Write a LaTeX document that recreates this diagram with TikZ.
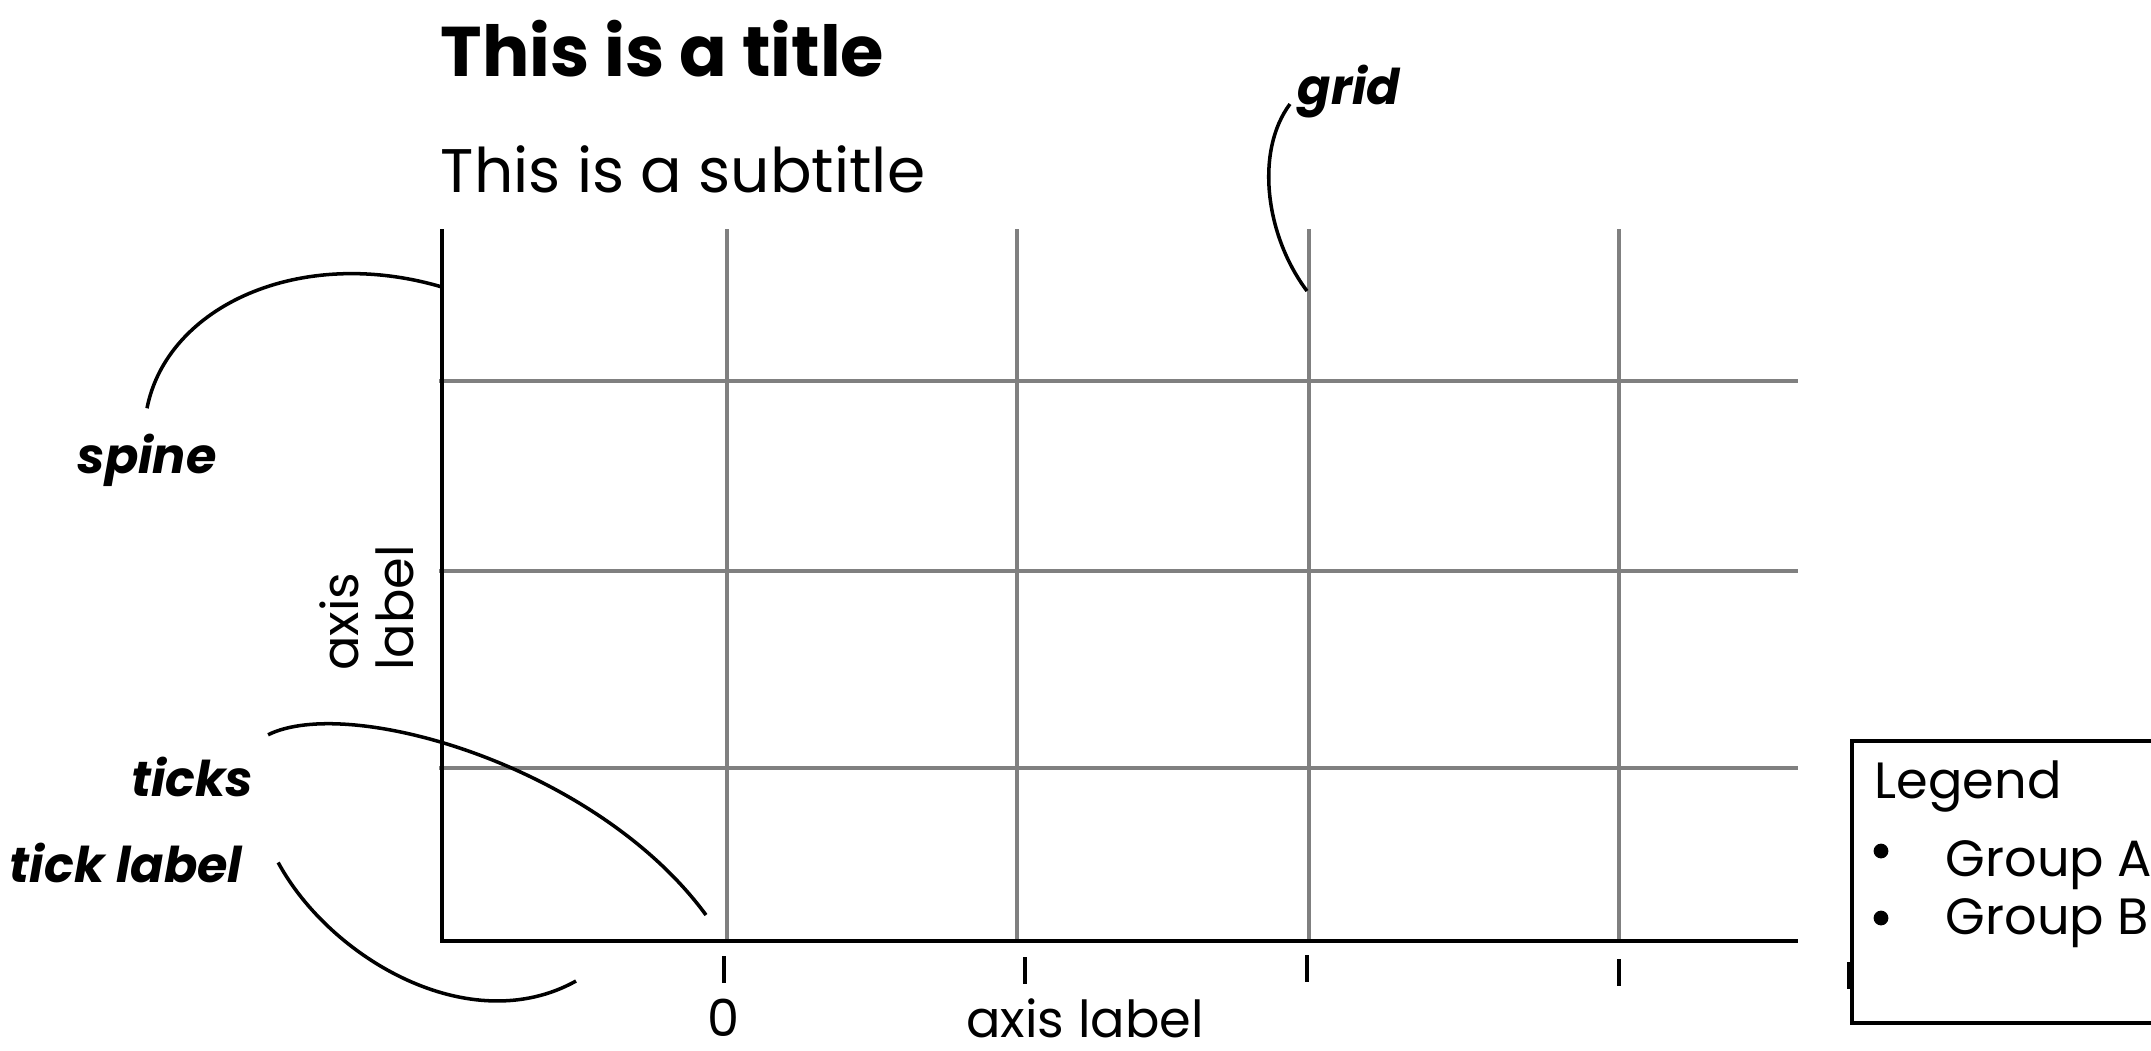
\documentclass[tikz,border=0pt]{standalone}
\usepackage{fontspec}
\setmainfont{Poppins}
\usepackage{tikz}
\definecolor{gridgray}{HTML}{808080}
\tikzset{
  titletext/.style={font=\fontsize{20}{24}\selectfont\bfseries,inner sep=0pt},
  subtitletext/.style={font=\fontsize{17.5}{21}\selectfont,inner sep=0pt},
  axistext/.style={font=\fontsize{14.5}{15.5}\selectfont,inner sep=0pt},
  callout/.style={font=\fontsize{14}{16}\selectfont\bfseries\itshape,inner sep=0pt},
  gridline/.style={draw=gridgray,line width=1.1pt},
  spineline/.style={line width=1pt},
  tickmark/.style={line width=1pt},
  leader/.style={line width=1pt},
  legendbox/.style={line width=1.2pt},
  bullet/.style={circle,fill,inner sep=0pt,minimum size=4.2pt},
}

\begin{document}
\begin{tikzpicture}[x=.01cm,y=-.01cm]
	\useasboundingbox (0,0) rectangle (2151,1050);
	\clip (0,0) rectangle (2151,1050);
	% grid
	\foreach \gx in {727,1017,1309,1619} \draw[gridline] (\gx,229)--(\gx,941);
	\foreach \gy in {381,571,768} \draw[gridline] (439,\gy)--(1798,\gy);
	% spines and ticks
	\draw[spineline] (442,229)--(442,941)--(1798,941);
	\foreach \tx/\ty in {724/956,1025/957,1307/955,1619/959,1849/962} \draw[tickmark] (\tx,\ty)--++(0,27);
	% texts
	\node[titletext,anchor=base west] (title) at (440,76) {This is a title};
	\node[subtitletext,anchor=base west] (subtitle) at (440,192) {This is a subtitle};
	\node[axistext,anchor=base] (xtick0) at (724,1036) {0};
	\node[axistext,anchor=base] (xlabel) at (1085,1037) {axis label};
	\node[axistext,rotate=90,align=left] (ylabel) at (367,608) {axis\\label};
	% callouts
	\node[callout,anchor=base west] (lblgrid) at (1297,104) {grid};
	\node[callout,anchor=base] (lblspine) at (147,473) {spine};
	\node[callout,anchor=base east] (lblticks) at (254,796) {ticks};
	\node[callout,anchor=base east] (lbltick) at (243,882) {tick label};
	\coordinate (gridend) at (1307,291); \coordinate (spineend) at (442,287);
	\coordinate (ticksend) at (706,915); \coordinate (tickend) at (576,981);
	\draw[leader] ([xshift=-2pt]lblgrid.base west) .. controls +(-35,47) and +(-42,-56) .. (gridend);
	\draw[leader] ([yshift=7pt]lblspine.north) .. controls +(20,-102) and +(-142,-42) .. (spineend);
	\draw[leader] ([shift={(4pt,6pt)}]lblticks.north east) .. controls +(80,-40) and +(-110,-150) .. (ticksend);
	\draw[leader] ([xshift=10pt]lbltick.east) .. controls +(52,96) and +(-106,59) .. (tickend);
	% legend
	\draw[legendbox,fill=white] (1852,741) rectangle (2220,1023);
	\node[axistext,anchor=base west] (legtitle) at (1874,798) {Legend};
	\node[bullet] (bulA) at (1881,851) {};
	\node[bullet] (bulB) at (1881,918) {};
	\node[axistext,anchor=base west] (groupA) at (1945,876) {Group A};
	\node[axistext,anchor=base west] (groupB) at (1945,934) {Group B};
\end{tikzpicture}
\end{document}
